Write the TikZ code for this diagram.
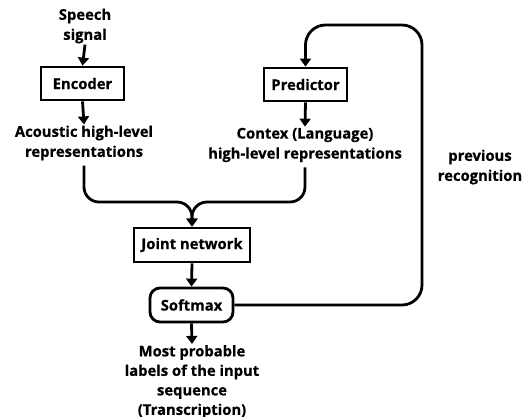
\documentclass[tikz,border=0pt]{standalone}
\usepackage{fontspec}
\setmainfont{Open Sans}[BoldFont={* Bold},BoldFeatures={FakeBold=0.6}]
\usetikzlibrary{arrows.meta,calc}
\begin{document}
\begin{tikzpicture}[x=1pt,y=-1pt,
  every node/.style={font=\fontsize{14.8}{20}\selectfont\bfseries},
  lbl/.style={align=center,inner sep=1pt},
  blk/.style={draw,line width=2.8pt,minimum height=33pt,inner sep=2pt},
  rblk/.style={blk,rounded corners=10pt},
  conn/.style={line width=2.8pt},
  arr/.style={conn,-{Triangle[length=8pt,width=11pt]}}]
\useasboundingbox (0,0) rectangle (528,417);
\node[lbl] (speech) at (85,26) {Speech\\signal};
\node[blk,minimum width=83pt] (enc) at (82.5,83.5) {Encoder};
\node[lbl] (acou) at (84,143) {Acoustic high-level\\representations};
\node[blk,minimum width=83pt] (pred) at (305.5,84.5) {Predictor};
\node[lbl] (ctx) at (305,145) {Contex (Language)\\high-level representations};
\node[lbl] (prev) at (480,167) {previous\\recognition};
\node[blk,minimum width=116pt,minimum height=34pt] (joint) at (192,245) {Joint network};
\node[rblk,minimum width=83pt,minimum height=34pt] (soft) at (191.5,305) {Softmax};
\node[lbl,text depth=0pt,font=\fontsize{14.8}{19.5}\selectfont\bfseries] (out) at (192,380) {Most probable\\labels of the input\\sequence\\(Transcription)};
\coordinate (m) at (192,202);
\coordinate (loopR) at (422,25);
\draw[arr] (speech.south) -- (enc.north);
\draw[arr] (enc.south) -- (acou.north);
\draw[arr] (pred.south) -- (ctx.north);
\draw[arr,rounded corners=15pt] ($(acou.south)+(0,4)$) |- (m) -- (joint.north);
\draw[arr,rounded corners=15pt] ($(ctx.south)+(0,4)$) |- (m) -- (joint.north);
\draw[arr] (joint.south) -- (soft.north);
\draw[arr] (soft.south) -- (out.north);
\draw[arr,rounded corners=20pt] (soft.east) -| (loopR) -| (pred.north);
\end{tikzpicture}
\end{document}
